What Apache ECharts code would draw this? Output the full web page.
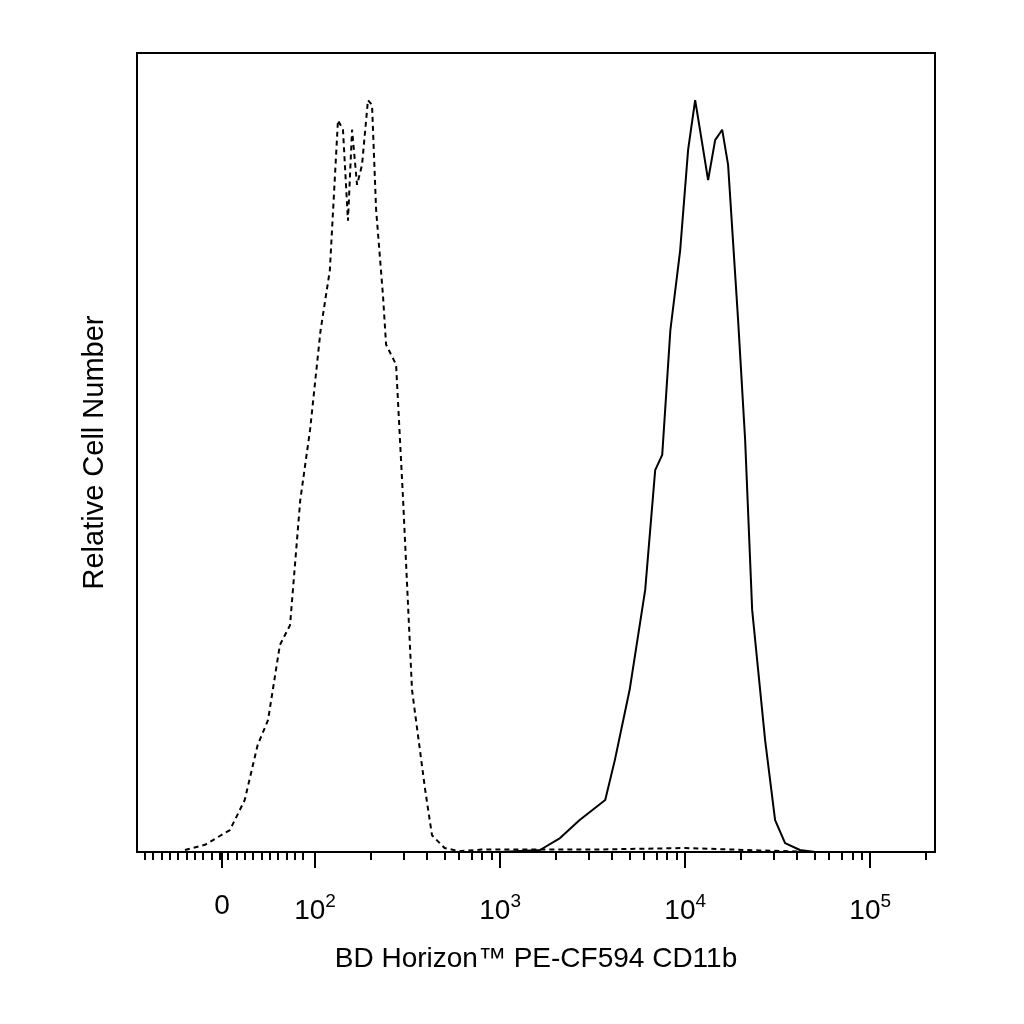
<!DOCTYPE html>
<html>
<head>
<meta charset="utf-8">
<script src="https://cdn.jsdelivr.net/npm/echarts@6/dist/echarts.min.js"></script>
<style>html,body{margin:0;background:#fff}#chart{width:1024px;height:1024px}</style>
</head>
<body>
<div id="chart"></div>
<script>
// x values are in display units (decades on the biexponential scale, 2 = 10^2)
// y values are % of the tallest peak
const isotypeX = [1.297, 1.405, 1.54, 1.62, 1.69, 1.746, 1.81, 1.865, 1.92, 1.973, 2.03, 2.08, 2.124, 2.151, 2.178, 2.2, 2.227, 2.254, 2.286, 2.308, 2.33, 2.367, 2.384, 2.438, 2.476, 2.524, 2.595, 2.632, 2.70, 2.78, 2.9, 3.5, 4.0, 4.4, 4.7];
const isotypeY = [0.25, 0.9, 2.75, 6.5, 13.4, 16.5, 25.9, 28.4, 44, 52.8, 65.3, 72.8, 91.6, 90.4, 79, 90.4, 83.5, 86, 94.1, 93.5, 80.4, 69.7, 63.5, 61, 44, 20.3, 7.8, 2.1, 0.5, 0.1, 0.3, 0.3, 0.5, 0.2, 0];
const cd11bX = [3.0, 3.216, 3.324, 3.43, 3.568, 3.62, 3.70, 3.784, 3.838, 3.876, 3.92, 3.973, 4.016, 4.054, 4.08, 4.124, 4.162, 4.2, 4.232, 4.286, 4.324, 4.362, 4.432, 4.486, 4.54, 4.62, 4.70];
const cd11bY = [0, 0.25, 1.75, 4, 6.5, 11.5, 20.3, 32.8, 47.8, 49.7, 65.3, 75.3, 87.9, 94.1, 90.4, 84.1, 89.1, 90.4, 86, 66.6, 51.6, 30.3, 14, 4, 1.1, 0.25, 0];
const majorTicks = [1.497, 2, 3, 4, 5];
const tickLabels = { '1.497': '{b|0}', '2': '{b|10}{s|2}', '3': '{b|10}{s|3}', '4': '{b|10}{s|4}', '5': '{b|10}{s|5}' };

const xMin = 1.038, xMax = 5.35;
let minorTicks = [];
for (let v = 1.08; v < 1.97; v += 0.045) minorTicks.push(+v.toFixed(3));
for (let n = 2; n <= 5; n++) {
    for (let k = 2; k <= 9; k++) {
        const p = n + Math.log10(k);
        if (p < xMax) minorTicks.push(p);
    }
}

const chart = echarts.init(document.getElementById('chart'));
const font = 'Liberation Sans, Arial, sans-serif';
const xBase = { type: 'value', min: xMin, max: xMax, position: 'bottom', splitLine: { show: false } };
chart.setOption({
    animation: false,
    grid: { left: 137, right: 89, top: 53, bottom: 172, show: true, borderColor: '#000', borderWidth: 2 },
    xAxis: [
        Object.assign({}, xBase, {
            axisLine: { lineStyle: { color: '#000', width: 2 } },
            axisTick: { customValues: majorTicks, length: 16, lineStyle: { color: '#000', width: 2 } },
            axisLabel: {
                customValues: majorTicks, margin: 40, color: '#000', fontFamily: font,
                formatter: v => tickLabels[String(+v.toFixed(3))] || '',
                rich: {
                    b: { fontSize: 28, fontFamily: font, color: '#000', verticalAlign: 'bottom' },
                    s: { fontSize: 19, fontFamily: font, color: '#000', verticalAlign: 'top', padding: [0, 0, 14, 0] }
                }
            },
            name: 'BD Horizon™ PE-CF594 CD11b', nameLocation: 'middle', nameGap: 93,
            nameTextStyle: { color: '#000', fontSize: 28, fontFamily: font }
        }),
        Object.assign({}, xBase, {
            axisLine: { show: false },
            axisTick: { customValues: minorTicks, length: 8, lineStyle: { color: '#000', width: 2 } },
            axisLabel: { show: false }
        })
    ],
    yAxis: {
        type: 'value', min: 0, max: 100,
        axisLine: { show: true, lineStyle: { color: '#000', width: 2 } },
        axisTick: { show: false }, axisLabel: { show: false }, splitLine: { show: false },
        name: 'Relative Cell Number', nameLocation: 'middle', nameGap: 28,
        nameTextStyle: { color: '#000', fontSize: 29, fontFamily: font }
    },
    series: [
        {
            type: 'line', showSymbol: false, xAxisIndex: 0,
            data: isotypeX.map((x, i) => [x, isotypeY[i]]),
            lineStyle: { color: '#000', width: 2, type: [5, 4] }
        },
        {
            type: 'line', showSymbol: false, xAxisIndex: 0,
            data: cd11bX.map((x, i) => [x, cd11bY[i]]),
            lineStyle: { color: '#000', width: 2 }
        }
    ]
});
</script>
</body>
</html>
